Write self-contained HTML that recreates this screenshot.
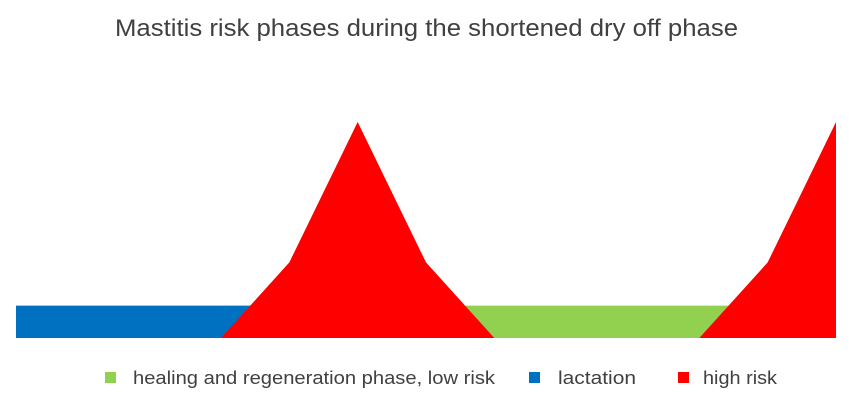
<!DOCTYPE html>
<html><head><meta charset="utf-8"><style>
body{margin:0;background:#fff;width:855px;height:403px;overflow:hidden;font-family:"Liberation Sans",sans-serif}
</style></head><body>
<svg id="chart" width="855" height="403">
<text x="115" y="36" font-size="24" textLength="623" lengthAdjust="spacingAndGlyphs" fill="#404040">Mastitis risk phases during the shortened dry off phase</text>
<g id="plot"></g>
<g font-size="18" fill="#404040">
<rect x="105" y="372" width="11" height="11" fill="#92d050"/>
<text x="133" y="384" textLength="362" lengthAdjust="spacingAndGlyphs">healing and regeneration phase, low risk</text>
<rect x="529" y="372" width="11" height="11" fill="#0070c0"/>
<text x="558" y="384" textLength="78" lengthAdjust="spacingAndGlyphs">lactation</text>
<rect x="678" y="372" width="11" height="11" fill="#ff0000"/>
<text x="703" y="384" textLength="74" lengthAdjust="spacingAndGlyphs">high risk</text>
</g>
</svg>
<script>
const categories=[0,1,2,3,4,5,6,7,8,9,10,11,12];
const lactation=[15,15,15,15,15,0,0,0,0,0,0,0,0];
const healing=[0,0,0,0,0,0,15,15,15,15,15,15,0];
const highRisk=[0,0,0,0,35,100,35,0,0,0,0,35,100];
const x0=16,x1=836,yBase=338,yTop=122,vMax=100;
const xs=i=>x0+(x1-x0)*i/(categories.length-1);
const ys=v=>yBase-(yBase-yTop)*v/vMax;
const plot=document.getElementById('plot');
function area(vals,color,name){
  let d='M'+xs(0)+','+yBase;
  vals.forEach((v,i)=>{d+=' L'+xs(i)+','+ys(v);});
  d+=' L'+xs(vals.length-1)+','+yBase+' Z';
  const p=document.createElementNS('http://www.w3.org/2000/svg','path');
  p.setAttribute('d',d);p.setAttribute('fill',color);
  
  
  plot.appendChild(p);
}
area(lactation,'#0070c0','area-lactation');
area(healing,'#92d050','area-healing');
area(highRisk,'#ff0000','area-high-risk');
</script>
</body></html>
